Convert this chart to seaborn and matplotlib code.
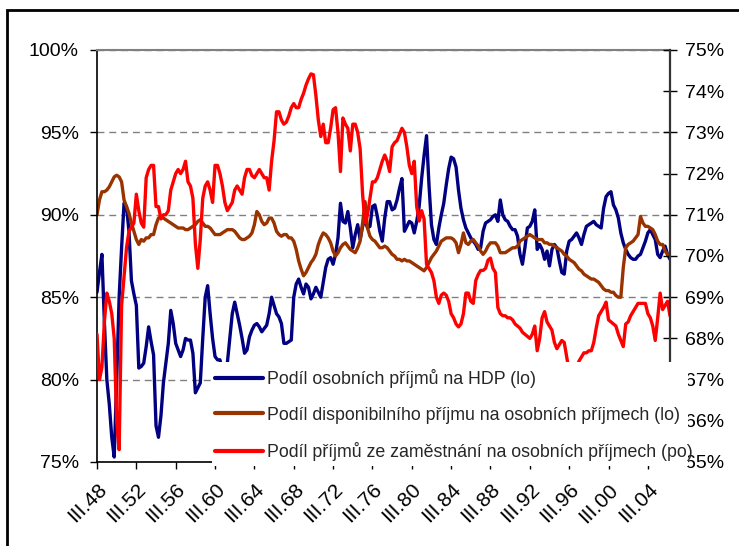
import numpy as np
import pandas as pd
import matplotlib
matplotlib.use("Agg")
import matplotlib.pyplot as plt
import seaborn as sns
from matplotlib.patches import Rectangle
from matplotlib.lines import Line2D

# ---------------- data (quarterly, III.1948 - IV.2006) ----------------
tick_labels = ["III.48", "III.52", "III.56", "III.60", "III.64", "III.68", "III.72",
               "III.76", "III.80", "III.84", "III.88", "III.92", "III.96", "III.00", "III.04"]

name_blue = "Podíl osobních příjmů na HDP (lo)"
name_brown = "Podíl disponibilního příjmu na osobních příjmech (lo)"
name_red = "Podíl příjmů ze zaměstnání na osobních příjmech (po)"

blue = [
    85.3, 86.5, 87.6, 83.5, 80.0, 78.5, 76.5, 75.3,
    80.0, 85.0, 88.0, 90.7, 90.5, 89.0, 86.0, 85.2,
    84.5, 80.7, 80.8, 81.0, 82.0, 83.2, 82.3, 81.5,
    77.2, 76.5, 77.8, 79.8, 81.0, 82.2, 84.2, 83.4,
    82.2, 81.8, 81.4, 81.8, 82.5, 82.4, 82.4, 81.6,
    79.2, 79.5, 79.8, 82.5, 85.0, 85.7, 84.0, 82.5,
    81.4, 81.2, 81.2, 80.5, 80.6, 81.0, 82.5, 84.0,
    84.7, 84.0, 83.3, 82.5, 81.6, 81.8, 82.6, 83.0,
    83.3, 83.4, 83.2, 82.9, 83.1, 83.3, 84.0, 85.0,
    84.5, 84.0, 83.8, 83.4, 82.2, 82.2, 82.3, 82.4,
    85.0, 85.8, 86.1, 85.6, 85.2, 85.8, 85.6, 84.9,
    85.2, 85.6, 85.3, 85.0, 85.9, 86.8, 87.3, 87.4,
    87.0, 87.6, 88.6, 90.7, 89.6, 89.5, 90.2, 89.2,
    88.0, 88.8, 89.4, 88.5, 89.3, 89.7, 89.2, 89.3,
    90.5, 90.6, 89.9, 89.0, 88.4, 89.8, 90.8, 90.8,
    90.3, 90.4, 90.9, 91.6, 92.2, 89.0, 89.3, 89.6,
    89.5, 88.9, 89.6, 90.5, 92.2, 93.6, 94.8, 91.8,
    89.4, 88.5, 88.2, 89.2, 90.0, 90.7, 91.8, 92.8,
    93.5, 93.4, 92.9, 91.5, 90.4, 89.7, 89.2, 88.9,
    88.6, 88.4, 88.2, 87.9, 88.0, 89.0, 89.5, 89.6,
    89.7, 89.9, 90.0, 89.6, 90.9, 90.0, 89.7, 89.6,
    89.3, 89.1, 89.1, 88.7, 87.6, 87.0, 88.0, 89.2,
    89.3, 89.6, 90.3, 87.9, 88.2, 87.9, 87.3, 87.8,
    86.9, 87.9, 88.2, 88.0, 87.2, 86.5, 86.4, 87.8,
    88.4, 88.5, 88.7, 88.9, 88.6, 88.2, 88.8, 89.3,
    89.4, 89.5, 89.6, 89.4, 89.3, 89.2, 90.4, 91.1,
    91.3, 91.4, 90.6, 90.3, 89.8, 88.9, 88.3, 87.9,
    87.6, 87.4, 87.3, 87.3, 87.5, 87.6, 88.0, 88.4,
    88.9, 89.1, 88.8, 88.5, 87.6, 87.4, 87.8, 88.1,
    87.6, 87.3]

brown = [
    90.0, 90.9, 91.4, 91.4, 91.5, 91.7, 92.0, 92.3,
    92.4, 92.3, 92.0, 90.9, 90.5, 90.1, 89.5, 89.0,
    88.5, 88.2, 88.5, 88.4, 88.6, 88.6, 88.8, 88.8,
    89.4, 89.8, 89.9, 89.8, 89.7, 89.6, 89.5, 89.4,
    89.3, 89.2, 89.2, 89.2, 89.1, 89.1, 89.2, 89.3,
    89.4, 89.6, 89.7, 89.5, 89.3, 89.3, 89.2, 89.0,
    88.8, 88.8, 88.8, 88.9, 89.0, 89.1, 89.1, 89.1,
    89.0, 88.8, 88.6, 88.5, 88.5, 88.6, 88.7, 88.9,
    89.4, 90.2, 90.0, 89.6, 89.4, 89.5, 89.8, 89.8,
    89.5, 89.0, 88.8, 88.7, 88.8, 88.8, 88.6, 88.6,
    88.4, 87.9, 87.2, 86.7, 86.3, 86.5, 86.8, 87.1,
    87.3, 87.6, 88.2, 88.6, 88.9, 88.8, 88.6, 88.3,
    87.8, 87.5, 87.7, 88.0, 88.2, 88.3, 88.1, 87.9,
    87.8, 87.7, 88.0, 88.4, 89.5, 90.8, 89.2, 88.7,
    88.5, 88.4, 88.2, 88.0, 88.0, 88.1, 88.0, 87.8,
    87.6, 87.5, 87.3, 87.3, 87.2, 87.3, 87.2, 87.2,
    87.1, 87.0, 86.9, 86.8, 86.7, 86.6, 86.8, 87.1,
    87.4, 87.6, 87.8, 88.1, 88.4, 88.5, 88.6, 88.6,
    88.6, 88.5, 88.3, 87.7, 88.2, 88.9, 88.3, 88.2,
    88.4, 88.5, 88.3, 88.1, 87.8, 87.6, 87.8, 88.1,
    88.3, 88.3, 88.3, 88.1, 87.7, 87.7, 87.7, 87.8,
    87.9, 88.0, 88.0, 88.1, 88.4, 88.5, 88.6, 88.7,
    88.8, 88.7, 88.6, 88.5, 88.5, 88.5, 88.3, 88.3,
    88.2, 88.2, 88.1, 88.0, 87.9, 87.8, 87.6, 87.5,
    87.3, 87.2, 87.1, 86.9, 86.7, 86.6, 86.4, 86.3,
    86.2, 86.1, 86.1, 86.0, 85.9, 85.7, 85.5, 85.4,
    85.4, 85.3, 85.3, 85.1, 85.0, 85.0, 86.8, 88.0,
    88.2, 88.3, 88.4, 88.6, 88.8, 89.9, 89.5, 89.3,
    89.3, 89.2, 89.1, 88.8, 88.4, 88.2, 88.2, 87.8,
    87.6, 87.5]

red = [
    68.1, 67.0, 67.3, 68.4, 69.1, 68.9, 68.6, 68.0,
    66.0, 65.3, 68.8, 69.5, 70.2, 70.6, 70.7, 70.8,
    71.5, 71.1, 70.8, 70.7, 71.9, 72.1, 72.2, 72.2,
    71.2, 71.2, 70.9, 71.0, 71.0, 71.1, 71.6, 71.8,
    72.0, 72.1, 72.0, 72.1, 72.3, 71.8, 71.7, 71.4,
    70.3, 69.7, 70.4, 71.4, 71.7, 71.8, 71.6, 71.3,
    72.2, 72.2, 72.0, 71.7, 71.3, 71.1, 71.2, 71.3,
    71.6, 71.7, 71.6, 71.5, 71.9, 72.1, 72.1, 71.95,
    71.9, 72.0, 72.1, 72.0, 71.9, 71.9, 71.6, 72.3,
    72.8, 73.5, 73.5, 73.3, 73.2, 73.25, 73.4, 73.6,
    73.7, 73.6, 73.6, 73.8, 73.95, 74.15, 74.3, 74.42,
    74.4, 73.9, 73.3, 72.9, 73.2, 72.75, 72.75, 73.1,
    73.55, 73.6, 73.0, 72.05, 73.35, 73.2, 73.1, 72.55,
    73.2, 73.2, 73.0, 72.6, 71.5, 70.8, 71.0, 71.4,
    71.8, 71.8, 71.9, 72.1, 72.3, 72.45, 72.3, 72.05,
    72.65, 72.75, 72.8, 72.95, 73.1, 73.0, 72.65, 72.2,
    72.0, 72.3, 71.2, 70.85, 71.1, 70.9, 69.8, 69.7,
    69.6, 69.4, 69.0, 68.85, 69.05, 69.1, 69.05, 68.9,
    68.6, 68.5, 68.35, 68.28, 68.35, 68.6, 69.1, 69.1,
    68.9, 68.85, 69.4, 69.55, 69.65, 69.65, 69.7, 69.9,
    69.95, 69.7, 69.6, 68.75, 68.6, 68.55, 68.55, 68.5,
    68.5, 68.45, 68.35, 68.3, 68.25, 68.15, 68.1, 68.05,
    68.0, 68.1, 68.3, 67.7, 68.0, 68.5, 68.65, 68.4,
    68.3, 68.2, 67.9, 67.75, 67.85, 67.95, 67.9, 67.55,
    67.2, 67.0, 67.1, 67.3, 67.45, 67.55, 67.65, 67.65,
    67.7, 67.7, 67.9, 68.25, 68.55, 68.65, 68.75, 68.88,
    68.45, 68.4, 68.35, 68.3, 68.1, 67.95, 67.8, 68.35,
    68.4, 68.55, 68.65, 68.75, 68.85, 68.85, 68.85, 68.85,
    68.6, 68.5, 68.3, 67.95, 68.5, 69.1, 68.7, 68.8,
    68.9, 68.55]

# ---------------- figure ----------------
sns.set_theme(style="white")
plt.rcParams["font.family"] = ["Liberation Sans", "DejaVu Sans"]

W, H = 739, 546
fig = plt.figure(figsize=(W / 100, H / 100), dpi=100)
fig.patch.set_facecolor("white")


def fx(px):
    return px / W


def fy(py):
    return 1 - py / H


ax = fig.add_axes([fx(97), fy(462), fx(670) - fx(97), fy(50) - fy(462)])
ax2 = ax.twinx()

df = pd.DataFrame({"q": np.arange(len(blue)), "blue": blue, "brown": brown, "red": red})

c_blue, c_brown, c_red = "#000080", "#993300", "#FF0000"
sns.lineplot(data=df, x="q", y="blue", ax=ax, color=c_blue, lw=2.4, legend=False)
sns.lineplot(data=df, x="q", y="brown", ax=ax, color=c_brown, lw=2.4, legend=False)
sns.lineplot(data=df, x="q", y="red", ax=ax2, color=c_red, lw=2.4, legend=False)

ax.set_xlim(0, len(blue) - 1)
ax.set_ylim(75, 100)
ax2.set_ylim(65, 75)

ax.set_yticks(range(75, 101, 5))
ax.set_yticklabels([f"{v}%" for v in range(75, 101, 5)])
ax2.set_yticks(range(65, 76))
ax2.set_yticklabels([f"{v}%" for v in range(65, 76)])

ax.set_xticks(range(0, 16 * len(tick_labels), 16))
ax.set_xticklabels(tick_labels, rotation=45, ha="right", va="top", rotation_mode="anchor")

for a in (ax, ax2):
    a.set_xlabel("")
    a.set_ylabel("")

ax.yaxis.grid(True, color="#808080", linestyle=(0, (5, 3.5)), lw=1)
ax.xaxis.grid(False)
ax2.grid(False)
ax.set_axisbelow(True)

ax.spines["top"].set_color("#808080")
ax.spines["top"].set_linewidth(1.5)
ax.spines["left"].set_color("black")
ax.spines["left"].set_linewidth(1.2)
ax.spines["bottom"].set_color("black")
ax.spines["bottom"].set_linewidth(1.2)
ax.spines["right"].set_visible(False)
for s in ("left", "top", "bottom"):
    ax2.spines[s].set_visible(False)
ax2.spines["right"].set_color("#333333")
ax2.spines["right"].set_linewidth(1.6)

ax.tick_params(axis="y", left=True, direction="out", length=5, width=1, pad=8,
               labelsize=14, colors="black")
ax.tick_params(axis="x", bottom=True, direction="out", length=5, width=1, pad=8,
               labelsize=15, colors="black")
ax2.tick_params(axis="y", right=True, direction="inout", length=10, width=1, pad=6,
                labelsize=14, colors="black")

# outer border (chart area frame, cropped at right and bottom)
fig.add_artist(Rectangle((fx(7), -0.2), 1.5, fy(10) + 0.2, transform=fig.transFigure,
                         fill=False, lw=2, edgecolor="black", clip_on=False, zorder=1))

# white legend box
fig.add_artist(Rectangle((fx(212), fy(466)), fx(688) - fx(212), fy(362) - fy(466),
                         transform=fig.transFigure, facecolor="white", edgecolor="none",
                         zorder=3))

handles = [Line2D([0], [0], color=c_blue, lw=3),
           Line2D([0], [0], color=c_brown, lw=3),
           Line2D([0], [0], color=c_red, lw=3)]
leg = fig.legend(handles, [name_blue, name_brown, name_red], loc="upper left",
                 bbox_to_anchor=(fx(215), fy(369)), frameon=False, fontsize=12.8,
                 handlelength=2.7, handletextpad=0.2, labelspacing=1.05,
                 borderpad=0, borderaxespad=0)
leg.set_zorder(5)

fig.savefig("out.png", dpi=100)
